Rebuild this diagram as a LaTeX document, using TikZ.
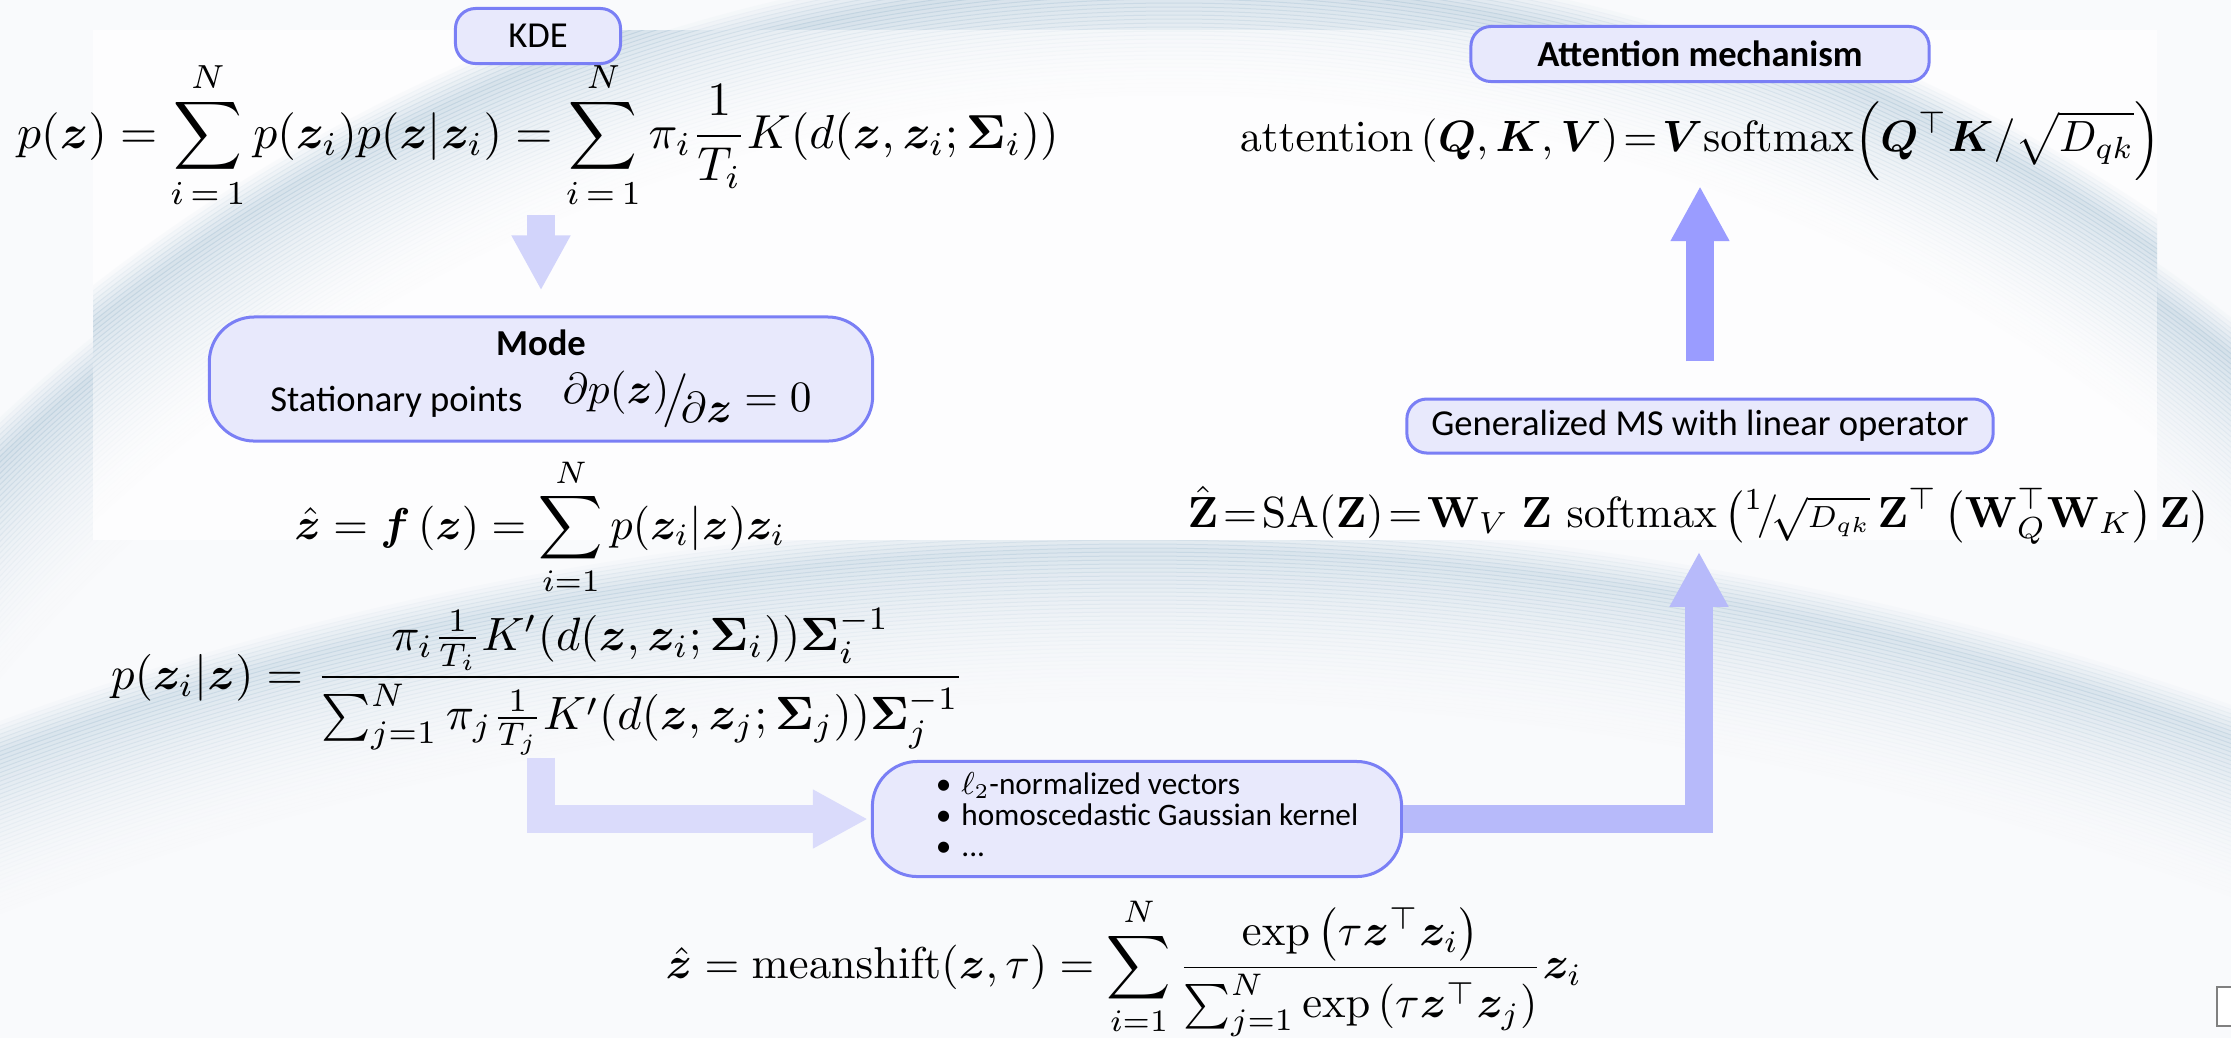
\documentclass[tikz,border=0pt]{standalone}
\usepackage{amsmath,amssymb}
\usepackage{bm}
\usepackage[no-math]{fontspec}
\newfontfamily\boxfont{Carlito}
\usepackage{tikz}
\usetikzlibrary{arrows.meta}

\definecolor{pagebg}{RGB}{249,250,252}
\definecolor{swoosh}{RGB}{165,192,211}
\definecolor{boxfill}{RGB}{232,233,252}
\definecolor{boxline}{RGB}{122,127,245}
\definecolor{arrowA}{RGB}{210,212,251}
\definecolor{arrowB}{RGB}{218,219,251}
\definecolor{arrowC}{RGB}{183,186,250}
\definecolor{arrowD}{RGB}{154,156,255}

% formula scaled to a given width
\newcommand{\fiteq}[2]{\resizebox{#1}{!}{$\displaystyle #2$}}
% soft band of the background: centre, radius, strength
\newcommand{\arcband}[3]{%
  \foreach \k [evaluate=\k as \op using #3*(1-\k/40)^2] in {0,...,39}
    \draw[swoosh,line width=0.05cm,opacity=\op] #1 circle[radius=#2-4*\k];
  \foreach \k [evaluate=\k as \op using #3*(1-\k/8)] in {1,...,7}
    \draw[swoosh,line width=0.05cm,opacity=\op] #1 circle[radius=#2+4*\k];}

\begin{document}
\begin{tikzpicture}[x=0.01cm,y=-0.01cm,
  labelbox/.style={draw=boxline,fill=boxfill,line width=0.03cm,rounded corners=0.2cm,
    font=\boxfont\fontsize{10.4}{12.5}\selectfont,inner sep=0pt},
  eqnode/.style={inner sep=0pt},
  blockarrow/.style={line width=0.28cm,line join=miter,-{Triangle[length=0.55cm,width=0.55cm]}}]

\useasboundingbox (0,0) rectangle (2231,1038);
\fill[pagebg] (0,0) rectangle (2231,1038);

% background
\begin{scope}
  \clip (0,0) rectangle (2231,1038);
  \arcband{(1138,3820)}{3270}{0.36}
  \arcband{(1174,1675)}{1690}{0.42}
  \fill[white!60!pagebg] (93,30) rectangle (2157,540);
  \clip (93,30) rectangle (2157,540);
  \arcband{(1174,1675)}{1730}{0.42}
\end{scope}
\draw[gray,line width=0.02cm,fill=white] (2217,987) rectangle (2250,1026);

% left column: KDE -> mode
\node[labelbox,minimum width=1.65cm,minimum height=0.55cm] (kde) at (538,36) {KDE};
\node[eqnode] (eqkde) at (538,135) {\fiteq{10.41cm}{p(\bm z)=\sum_{i\,=\,1}^{N}p(\bm z_i)p(\bm z|\bm z_i)
  =\sum_{i\,=\,1}^{N}\pi_i\frac{1}{T_i}K(d(\bm z,\bm z_i;\bm\Sigma_i))}};
\node[labelbox,minimum width=6.63cm,minimum height=1.24cm,rounded corners=0.45cm,align=center] (mode) at (541,379)
  {\textbf{Mode}\\[0.12cm]Stationary points\hspace{0.4cm}\fiteq{2.49cm}{\raisebox{0.4ex}{$\partial p(\bm z)$}\!\big/\!\raisebox{-0.5ex}{$\partial\bm z$}=0}};
\node[eqnode] (eqf) at (540,527) {\fiteq{4.91cm}{\hat{\bm z}=\bm f\,(\bm z)=\sum_{i=1}^{N}p(\bm z_i|\bm z)\bm z_i}};
\node[eqnode] (eqfrac) at (538,682) {\fiteq{8.53cm}{p(\bm z_i|\bm z)=\frac{\pi_i\frac{1}{T_i}K'(d(\bm z,\bm z_i;\bm\Sigma_i))\bm\Sigma_i^{-1}}
  {\sum_{j=1}^{N}\pi_j\frac{1}{T_j}K'(d(\bm z,\bm z_j;\bm\Sigma_j))\bm\Sigma_j^{-1}}}};

% assumptions and mean shift
\node[labelbox,minimum width=5.29cm,minimum height=1.15cm,rounded corners=0.45cm,
  font=\boxfont\fontsize{8.9}{8.6}\selectfont] (cond) at (1137,819)
  {\hspace*{0.2cm}\begin{tabular}{@{}l@{\hspace{0.1cm}}l@{}}
    • & $\ell_2$-normalized vectors\\
    • & homoscedastic Gaussian kernel\\
    • & ...
  \end{tabular}};
\node[eqnode] (eqms) at (1124,967) {\fiteq{9.16cm}{\hat{\bm z}=\mathrm{meanshift}(\bm z,\tau)=\sum_{i=1}^{N}
  \frac{\exp\left(\tau\bm z^\top\bm z_i\right)}{\sum_{j=1}^{N}\exp\left(\tau\bm z^\top\bm z_j\right)}\bm z_i}};

% right column: generalized MS -> attention
\node[eqnode] (eqsa) at (1699,515) {\fiteq{10.22cm}{\hat{\mathbf Z}\!=\!\mathrm{SA}(\mathbf Z)\!=\!\mathbf W_V\;\mathbf Z\ \mathrm{softmax}
  \left({}^1\!/\!{\scriptstyle\sqrt{D_{qk}}}\,\mathbf Z^\top\left(\mathbf W_Q^\top\mathbf W_K\right)\mathbf Z\right)}};
\node[labelbox,minimum width=5.86cm,minimum height=0.54cm] (gms) at (1700,426) {Generalized MS with linear operator};
\node[eqnode] (eqatt) at (1700,141) {\fiteq{9.20cm}{\mathrm{attention}\left(\bm Q,\bm K,\bm V\right)\!=\!\bm V\mathrm{softmax}\!
  \left(\bm Q^\top\bm K/\sqrt{D_{qk}}\right)}};
\node[labelbox,minimum width=4.58cm,minimum height=0.55cm,font=\boxfont\fontsize{10.4}{12.5}\selectfont\bfseries] (att) at (1700,54) {Attention mechanism};

% arrows
\draw[blockarrow,arrowA,shorten <=0.05cm,shorten >=0.25cm] (eqkde.south -| mode.north) -- (mode.north);
\draw[blockarrow,arrowB,shorten <=0.02cm,shorten >=0.03cm] (eqfrac.south -| mode.south) |- (cond.west);
\draw[blockarrow,arrowC,shorten >=0.07cm] (cond.east) -| (eqsa.south);
\draw[blockarrow,arrowD,shorten <=0.36cm,shorten >=0.05cm] (gms.north) -- (eqatt.south);

\end{tikzpicture}
\end{document}
